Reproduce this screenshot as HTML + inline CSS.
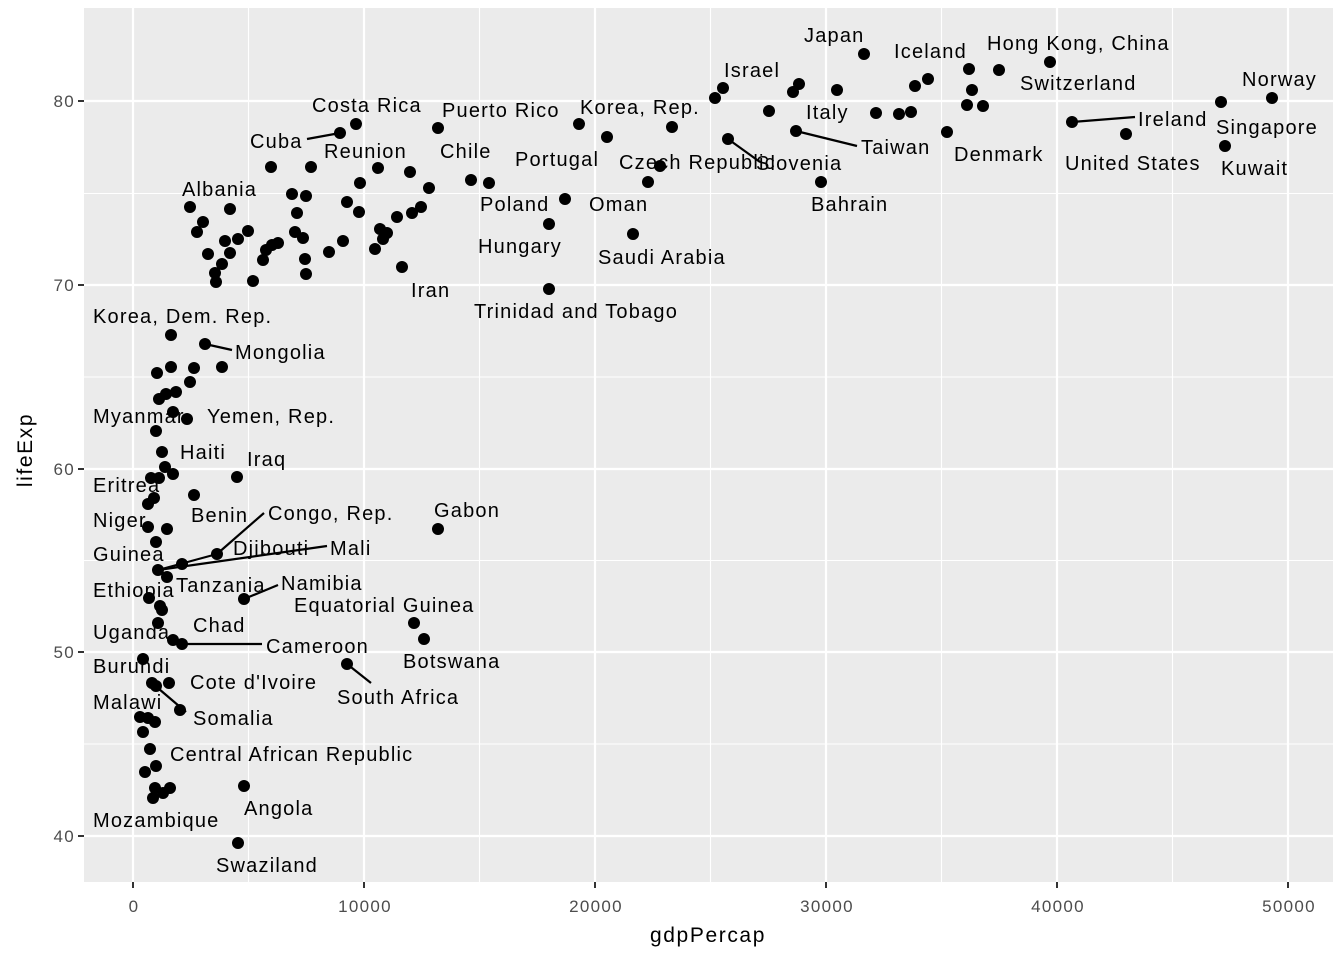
<!DOCTYPE html>
<html><head><meta charset="utf-8"><style>body{margin:0;background:#fff}svg{display:block}</style></head><body>
<svg width="1344" height="960" xmlns="http://www.w3.org/2000/svg" font-family="Liberation Sans, Arial, sans-serif">
<rect x="0" y="0" width="1344" height="960" fill="#fff"/>
<rect x="84" y="8" width="1249" height="874" fill="#ebebeb"/>
<g stroke="#fff" stroke-width="1.1">
<line x1="248.5" y1="8" x2="248.5" y2="882"/><line x1="479.5" y1="8" x2="479.5" y2="882"/><line x1="710.5" y1="8" x2="710.5" y2="882"/><line x1="941.5" y1="8" x2="941.5" y2="882"/><line x1="1172.5" y1="8" x2="1172.5" y2="882"/>
<line x1="84" y1="193.5" x2="1333" y2="193.5"/><line x1="84" y1="377" x2="1333" y2="377"/><line x1="84" y1="560.5" x2="1333" y2="560.5"/><line x1="84" y1="744" x2="1333" y2="744"/>
</g>
<g stroke="#fff" stroke-width="2.2">
<line x1="133" y1="8" x2="133" y2="882"/><line x1="364" y1="8" x2="364" y2="882"/><line x1="595" y1="8" x2="595" y2="882"/><line x1="826" y1="8" x2="826" y2="882"/><line x1="1057" y1="8" x2="1057" y2="882"/><line x1="1288" y1="8" x2="1288" y2="882"/>
<line x1="84" y1="101" x2="1333" y2="101"/><line x1="84" y1="285" x2="1333" y2="285"/><line x1="84" y1="469" x2="1333" y2="469"/><line x1="84" y1="652" x2="1333" y2="652"/><line x1="84" y1="836" x2="1333" y2="836"/>
</g>
<g stroke="#333" stroke-width="2">
<line x1="133" y1="882" x2="133" y2="888"/><line x1="364" y1="882" x2="364" y2="888"/><line x1="595" y1="882" x2="595" y2="888"/><line x1="826" y1="882" x2="826" y2="888"/><line x1="1057" y1="882" x2="1057" y2="888"/><line x1="1288" y1="882" x2="1288" y2="888"/>
<line x1="78" y1="101" x2="84" y2="101"/><line x1="78" y1="285" x2="84" y2="285"/><line x1="78" y1="469" x2="84" y2="469"/><line x1="78" y1="652" x2="84" y2="652"/><line x1="78" y1="836" x2="84" y2="836"/>
</g>
<g fill="#4d4d4d" font-size="17" letter-spacing="1.3">
<g text-anchor="end"><text x="75" y="107">80</text><text x="75" y="291">70</text><text x="75" y="475">60</text><text x="75" y="658">50</text><text x="75" y="842">40</text></g>
<g text-anchor="middle"><text x="134" y="912">0</text><text x="365" y="912">10000</text><text x="596" y="912">20000</text><text x="827" y="912">30000</text><text x="1058" y="912">40000</text><text x="1289" y="912">50000</text></g>
</g>
<text x="708" y="942" font-size="21" letter-spacing="1.6" text-anchor="middle" fill="#000">gdpPercap</text>
<text transform="translate(32,450) rotate(-90)" font-size="21" letter-spacing="1.6" text-anchor="middle" fill="#000">lifeExp</text>
<g stroke="#000" stroke-width="2.2">
<line x1="340" y1="133" x2="307" y2="139"/><line x1="1072" y1="122" x2="1135" y2="117"/><line x1="796" y1="131" x2="857" y2="146"/><line x1="728" y1="139" x2="760" y2="162"/>
<line x1="205" y1="344" x2="232" y2="350"/><line x1="217" y1="554" x2="264" y2="513"/><line x1="158" y1="570" x2="327" y2="546"/><line x1="158" y1="570" x2="217" y2="554"/>
<line x1="244" y1="599" x2="278" y2="585"/><line x1="182" y1="644" x2="262" y2="644"/><line x1="152" y1="683" x2="186" y2="712"/><line x1="347" y1="664" x2="371" y2="683"/>
</g>
<g fill="#000">
<circle cx="271" cy="167" r="6"/><circle cx="311" cy="167" r="6"/><circle cx="378" cy="168" r="6"/><circle cx="410" cy="172" r="6"/><circle cx="360" cy="183" r="6"/><circle cx="429" cy="188" r="6"/><circle cx="471" cy="180" r="6"/><circle cx="489" cy="183" r="6"/>
<circle cx="190" cy="207" r="6"/><circle cx="230" cy="209" r="6"/><circle cx="292" cy="194" r="6"/><circle cx="306" cy="196" r="6"/><circle cx="347" cy="202" r="6"/><circle cx="359" cy="212" r="6"/><circle cx="397" cy="217" r="6"/><circle cx="412" cy="213" r="6"/><circle cx="421" cy="207" r="6"/><circle cx="297" cy="213" r="6"/>
<circle cx="203" cy="222" r="6"/><circle cx="197" cy="232" r="6"/><circle cx="225" cy="241" r="6"/><circle cx="238" cy="239" r="6"/><circle cx="248" cy="231" r="6"/><circle cx="295" cy="232" r="6"/><circle cx="303" cy="238" r="6"/><circle cx="380" cy="229" r="6"/><circle cx="387" cy="233" r="6"/><circle cx="383" cy="239" r="6"/><circle cx="343" cy="241" r="6"/><circle cx="329" cy="252" r="6"/><circle cx="375" cy="249" r="6"/>
<circle cx="208" cy="254" r="6"/><circle cx="230" cy="253" r="6"/><circle cx="266" cy="250" r="6"/><circle cx="272" cy="245" r="6"/><circle cx="278" cy="243" r="6"/><circle cx="263" cy="260" r="6"/><circle cx="222" cy="264" r="6"/><circle cx="215" cy="273" r="6"/><circle cx="216" cy="282" r="6"/><circle cx="253" cy="281" r="6"/><circle cx="305" cy="259" r="6"/><circle cx="306" cy="274" r="6"/><circle cx="402" cy="267" r="6"/>
<circle cx="356" cy="124" r="6"/><circle cx="340" cy="133" r="6"/><circle cx="438" cy="128" r="6"/><circle cx="579" cy="124" r="6"/><circle cx="607" cy="137" r="6"/><circle cx="672" cy="127" r="6"/><circle cx="660" cy="166" r="6"/><circle cx="648" cy="182" r="6"/><circle cx="565" cy="199" r="6"/><circle cx="549" cy="224" r="6"/><circle cx="633" cy="234" r="6"/><circle cx="549" cy="289" r="6"/>
<circle cx="864" cy="54" r="6"/><circle cx="723" cy="88" r="6"/><circle cx="715" cy="98" r="6"/><circle cx="799" cy="84" r="6"/><circle cx="793" cy="92" r="6"/><circle cx="837" cy="90" r="6"/><circle cx="769" cy="111" r="6"/><circle cx="915" cy="86" r="6"/><circle cx="928" cy="79" r="6"/><circle cx="969" cy="69" r="6"/><circle cx="999" cy="70" r="6"/><circle cx="1050" cy="62" r="6"/><circle cx="972" cy="90" r="6"/><circle cx="967" cy="105" r="6"/><circle cx="983" cy="106" r="6"/><circle cx="876" cy="113" r="6"/><circle cx="899" cy="114" r="6"/><circle cx="911" cy="112" r="6"/><circle cx="796" cy="131" r="6"/><circle cx="728" cy="139" r="6"/><circle cx="947" cy="132" r="6"/><circle cx="821" cy="182" r="6"/><circle cx="1072" cy="122" r="6"/><circle cx="1126" cy="134" r="6"/><circle cx="1221" cy="102" r="6"/><circle cx="1272" cy="98" r="6"/><circle cx="1225" cy="146" r="6"/>
<circle cx="171" cy="335" r="6"/><circle cx="205" cy="344" r="6"/><circle cx="222" cy="367" r="6"/><circle cx="157" cy="373" r="6"/><circle cx="171" cy="367" r="6"/><circle cx="194" cy="368" r="6"/><circle cx="190" cy="382" r="6"/><circle cx="176" cy="392" r="6"/><circle cx="166" cy="394" r="6"/><circle cx="159" cy="399" r="6"/><circle cx="173" cy="412" r="6"/><circle cx="187" cy="419" r="6"/><circle cx="156" cy="431" r="6"/><circle cx="162" cy="452" r="6"/><circle cx="165" cy="467" r="6"/><circle cx="173" cy="474" r="6"/><circle cx="237" cy="477" r="6"/><circle cx="151" cy="478" r="6"/><circle cx="159" cy="478" r="6"/><circle cx="194" cy="495" r="6"/><circle cx="154" cy="498" r="6"/><circle cx="148" cy="504" r="6"/><circle cx="148" cy="527" r="6"/><circle cx="167" cy="529" r="6"/><circle cx="156" cy="542" r="6"/><circle cx="217" cy="554" r="6"/><circle cx="182" cy="564" r="6"/><circle cx="158" cy="570" r="6"/><circle cx="167" cy="577" r="6"/><circle cx="149" cy="598" r="6"/><circle cx="160" cy="606" r="6"/><circle cx="244" cy="599" r="6"/><circle cx="162" cy="610" r="6"/>
<circle cx="158" cy="623" r="6"/><circle cx="173" cy="640" r="6"/><circle cx="182" cy="644" r="6"/><circle cx="143" cy="659" r="6"/><circle cx="152" cy="683" r="6"/><circle cx="156" cy="686" r="6"/><circle cx="169" cy="683" r="6"/><circle cx="180" cy="710" r="6"/><circle cx="140" cy="717" r="6"/><circle cx="148" cy="718" r="6"/><circle cx="155" cy="722" r="6"/><circle cx="143" cy="732" r="6"/><circle cx="150" cy="749" r="6"/><circle cx="156" cy="766" r="6"/><circle cx="145" cy="772" r="6"/><circle cx="155" cy="788" r="6"/><circle cx="170" cy="788" r="6"/><circle cx="163" cy="793" r="6"/><circle cx="153" cy="798" r="6"/><circle cx="244" cy="786" r="6"/><circle cx="238" cy="843" r="6"/>
<circle cx="438" cy="529" r="6"/><circle cx="414" cy="623" r="6"/><circle cx="424" cy="639" r="6"/><circle cx="347" cy="664" r="6"/>
</g>
<g font-size="20" letter-spacing="1.2" fill="#000">
<text x="804" y="42">Japan</text><text x="894" y="58">Iceland</text><text x="987" y="50">Hong Kong, China</text><text x="724" y="77">Israel</text><text x="1242" y="86">Norway</text><text x="1020" y="90">Switzerland</text>
<text x="312" y="112">Costa Rica</text><text x="442" y="117">Puerto Rico</text><text x="580" y="114">Korea, Rep.</text><text x="806" y="119">Italy</text><text x="1138" y="126">Ireland</text><text x="1216" y="134">Singapore</text>
<text x="250" y="148">Cuba</text><text x="324" y="158">Reunion</text><text x="440" y="158">Chile</text><text x="861" y="154">Taiwan</text><text x="515" y="166">Portugal</text><text x="619" y="169">Czech Republic</text><text x="756" y="170">Slovenia</text><text x="954" y="161">Denmark</text><text x="1065" y="170">United States</text><text x="1221" y="175">Kuwait</text>
<text x="182" y="196">Albania</text><text x="480" y="211">Poland</text><text x="589" y="211">Oman</text><text x="811" y="211">Bahrain</text><text x="478" y="253">Hungary</text><text x="598" y="264">Saudi Arabia</text><text x="411" y="297">Iran</text><text x="474" y="318">Trinidad and Tobago</text>
<text x="93" y="323">Korea, Dem. Rep.</text><text x="235" y="359">Mongolia</text><text x="93" y="423">Myanmar</text><text x="207" y="423">Yemen, Rep.</text><text x="180" y="459">Haiti</text><text x="247" y="466">Iraq</text><text x="93" y="492">Eritrea</text><text x="434" y="517">Gabon</text><text x="191" y="522">Benin</text><text x="268" y="520">Congo, Rep.</text><text x="93" y="527">Niger</text><text x="233" y="555">Djibouti</text><text x="330" y="555">Mali</text><text x="93" y="561">Guinea</text><text x="176" y="592">Tanzania</text><text x="281" y="590">Namibia</text><text x="93" y="597">Ethiopia</text><text x="294" y="612">Equatorial Guinea</text><text x="193" y="632">Chad</text><text x="93" y="639">Uganda</text><text x="266" y="653">Cameroon</text><text x="403" y="668">Botswana</text><text x="93" y="673">Burundi</text><text x="190" y="689">Cote d'Ivoire</text><text x="337" y="704">South Africa</text><text x="93" y="709">Malawi</text><text x="193" y="725">Somalia</text><text x="170" y="761">Central African Republic</text><text x="244" y="815">Angola</text><text x="93" y="827">Mozambique</text><text x="216" y="872">Swaziland</text>
</g>
</svg>
</body></html>
